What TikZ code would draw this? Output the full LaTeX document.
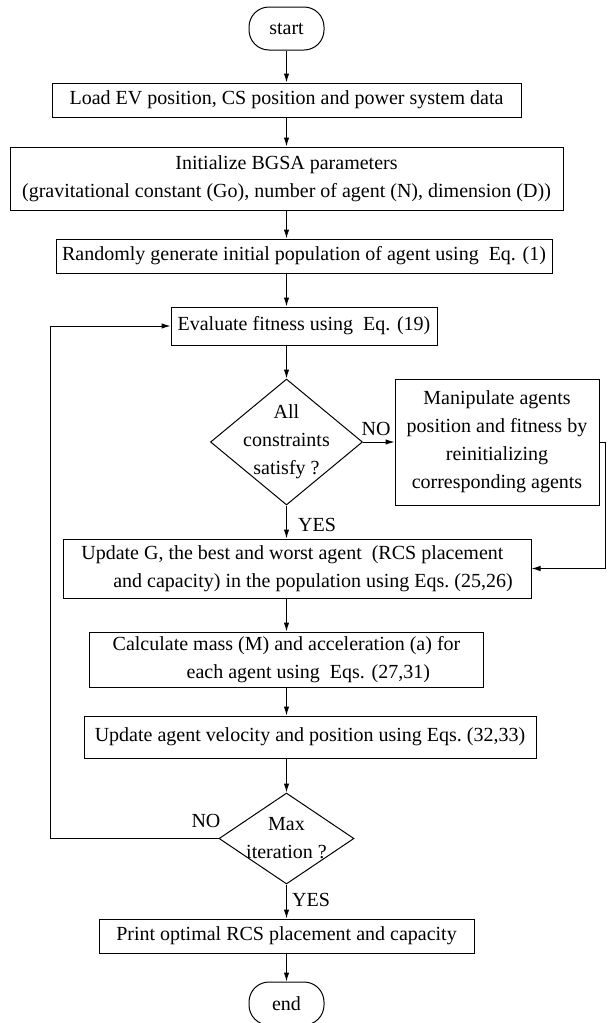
\documentclass[tikz,border=0pt]{standalone}
\usepackage{fontspec}
\setmainfont{Liberation Serif}
\usetikzlibrary{shapes.geometric,arrows.meta}

\begin{document}
\begin{tikzpicture}[x=1pt,y=-1pt,line width=1pt,>={Latex[length=9pt,width=5.5pt]}]
\tikzstyle{every node}+=[inner sep=0pt,font=\fontsize{20}{28}\selectfont]
\tikzstyle{proc}=[draw,rectangle,align=center]
\tikzstyle{term}=[draw,rectangle,rounded corners=20pt,minimum width=75pt,minimum height=43pt]
\tikzstyle{decide}=[draw,diamond,minimum width=152pt,minimum height=126pt]
\useasboundingbox (0,0) rectangle (608,1023);

\node [term] (start) at (286.5,28.5) {start};
\node [proc,minimum width=469pt,minimum height=34pt] (load) at (286.5,100) {Load EV position, CS position and power system data};
\node [proc,minimum width=553pt,minimum height=63pt] (init) at (286.5,178.5) {Initialize BGSA parameters\\(gravitational constant (Go), number of agent (N), dimension (D))};
\node [proc,minimum width=496pt,minimum height=34pt] (rand) at (304,256) {Randomly generate initial population of agent using\ \ Eq. (1)};
\node [proc,minimum width=266pt,minimum height=38pt] (eval) at (304,326) {Evaluate fitness using\ \ Eq. (19)};
\node [decide,label={[align=center]center:All\\constraints\\satisfy ?}] (chk) at (286.5,442) {};
\node [proc,minimum width=204pt,minimum height=126pt] (manip) at (497,442) {Manipulate agents\\position and fitness by\\reinitializing\\corresponding agents};
\node [proc,align=left,minimum width=468pt,minimum height=59pt] (upd) at (297,568.5) {Update G, the best and worst agent\ \ (RCS placement\\\hspace*{32pt}and capacity) in the population using Eqs.\ (25,26)};
\node [proc,align=left,minimum width=394pt,minimum height=55pt] (mass) at (286.5,659.5) {Calculate mass\ (M) and acceleration (a) for\\\hspace*{74pt}each agent using\ \ Eqs. (27,31)};
\node [proc,minimum width=452pt,minimum height=42pt] (velo) at (310,737) {Update agent velocity and position using Eqs.\ (32,33)};
\node [decide,minimum width=135pt,minimum height=91pt,label={[align=center]center:Max\\iteration ?}] (iter) at (286.5,838.5) {};
\node [proc,minimum width=375pt,minimum height=34pt] (out) at (286.5,936) {Print optimal RCS placement and capacity};
\node [term] (end) at (286.5,1003.5) {end};

\node (no1) at (376,429) {NO};
\node (yes1) at (317,525) {YES};
\node (no2) at (206,821) {NO};
\node (yes2) at (311,900) {YES};

\coordinate (rgt) at (605,442);
\coordinate (lft) at (50,838.5);

\draw [->] (start) -- (load);
\draw [->] (load) -- (init);
\draw [->] (init) -- (init |- rand.north);
\draw [->] (init |- rand.south) -- (init |- eval.north);
\draw [->] (init |- eval.south) -- (chk);
\draw [->] (chk) -- (manip);
\draw [->] (chk) -- (chk |- upd.north);
\draw [->] (manip.east) -- (rgt) |- (upd.east);
\draw [->] (chk |- upd.south) -- (mass);
\draw [->] (mass) -- (chk |- velo.north);
\draw [->] (chk |- velo.south) -- (iter);
\draw [->] (iter) -- (out);
\draw [->] (out) -- (end);
\draw [->] (iter.west) -- (lft) |- (eval.west);
\end{tikzpicture}
\end{document}
